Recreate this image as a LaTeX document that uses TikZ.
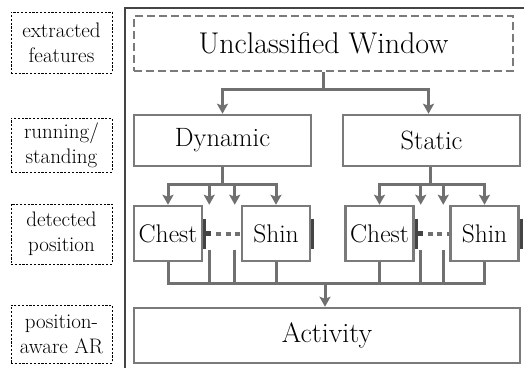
\documentclass[tikz,border=0pt]{standalone}
\usetikzlibrary{arrows.meta,calc,positioning}
\definecolor{arink}{HTML}{000000}
\definecolor{argray}{HTML}{7A7A7A}
\definecolor{arline}{HTML}{707070}
\definecolor{ardark}{HTML}{444444}
\tikzset{
  ar tag/.style={draw=arink, line width=0.8pt, dash pattern=on 2.2pt off 1.6pt,
    minimum width=101pt, inner sep=0pt, align=center, font=\fontsize{21}{25}\selectfont},
  ar box/.style={draw=argray, line width=2.5pt, fill=white, inner sep=0pt,
    minimum height=55pt, align=center, text=arink},
  ar window/.style={ar box, dash pattern=on 8pt off 4pt},
  ar link/.style={draw=arline, line width=3pt, line join=miter},
  ar arrow/.style={ar link, -{Stealth[length=10pt,width=11pt,inset=2pt]}},
  ar bar/.style={draw=ardark, line width=3pt},
  ar dots/.style={draw=arline, line width=4pt, dash pattern=on 5pt off 4.5pt},
  ar frame/.style={draw=ardark, line width=1.2pt}
}

\begin{document}
\begin{tikzpicture}[x=1pt, y=-1pt]
  \useasboundingbox (0,0) rectangle (524,368);
  \draw[ar frame] (125,368) -- (125,8) -- (524,8);
  % level tags on the left
  \node[ar tag, minimum height=61pt] (t1) at (61.5,42.5) {extracted\\features};
  \node[ar tag, minimum height=54pt] (t2) at (61.5,145) {running/\\standing};
  \node[ar tag, minimum height=60pt] (t3) at (61.5,234) {detected\\position};
  \node[ar tag, minimum height=58pt] (t4) at (61.5,334) {position-\\aware AR};
  % classifier boxes
  \node[ar window, minimum width=379pt, font=\fontsize{30}{34}\selectfont] (win) at (323.5,43.5) {Unclassified Window};
  \node[ar box, minimum width=177pt, minimum height=51pt, font=\fontsize{26.5}{30}\selectfont] (dyn) at (222.5,140.5) {Dynamic};
  \node[ar box, minimum width=177pt, minimum height=51pt, font=\fontsize{26.5}{30}\selectfont] (sta) at (431.5,140.5) {Static};
  \foreach \n/\x/\t in {c1/168/Chest,s1/276/Shin,c2/379.5/Chest,s2/484.5/Shin}
    \node[ar box, minimum width=68pt, font=\fontsize{25.5}{30}\selectfont] (\n) at (\x,233.5) {\t};
  \node[ar box, minimum width=386pt, font=\fontsize{28}{32}\selectfont] (act) at (327,335.5) {Activity};
  % split points
  \coordinate (wj) at ($(win.south)+(0,17)$);
  \coordinate (dj) at ($(dyn.south)+(0,17)$);
  \coordinate (sj) at ($(sta.south)+(0,17)$);
  \coordinate (bus) at (325,283);
  \foreach \c/\s/\k in {c1/s1/d,c2/s2/s} {
    \coordinate (\k m1) at ($(\c.north east)+(6,0)$);
    \coordinate (\k m2) at ($(\s.north west)+(-6,0)$);
    \coordinate (\k u1) at ($(\c.east)+(6,16)$);
    \coordinate (\k u2) at ($(\s.west)+(-6,16)$);
  }
  % top split
  \draw[ar link] (win.south) -- (wj);
  \draw[ar arrow] (wj) -| (dyn.north);
  \draw[ar arrow] (wj) -| ($(sta.north)+(-3,0)$);
  % position splits
  \draw[ar link] (dyn.south) -- (dj);
  \foreach \t in {c1.north,dm1,dm2,s1.north} \draw[ar arrow] (dj) -| (\t);
  \draw[ar link] ($(sta.south)+(-1,0)$) -- ($(sj)+(-1,0)$);
  \foreach \t in {c2.north,sm1,sm2,s2.north} \draw[ar arrow] ($(sj)+(-1,0)$) -| (\t);
  % ellipsis between positions
  \foreach \c/\s in {c1/s1,c2/s2} {
    \draw[ar bar] ($(\c.east)+(1.5,-15)$) -- ($(\c.east)+(1.5,15)$);
    \draw[ar bar] ($(\s.east)+(1.5,-15)$) -- ($(\s.east)+(1.5,15)$);
    \fill[ardark] ($(\c.east)+(3,-2.5)$) rectangle ++(5,5);
    \draw[ar dots] ($(\c.east)+(13,0)$) -- (\s.west);
  }
  % collect into activity
  \draw[ar link] (c1.south) |- (bus) -| (s2.south);
  \foreach \t in {du1,du2,s1.south,c2.south,su1,su2} \draw[ar link] (\t) -- (\t |- bus);
  \draw[ar arrow] (bus) -- (bus |- act.north);
\end{tikzpicture}
\end{document}
